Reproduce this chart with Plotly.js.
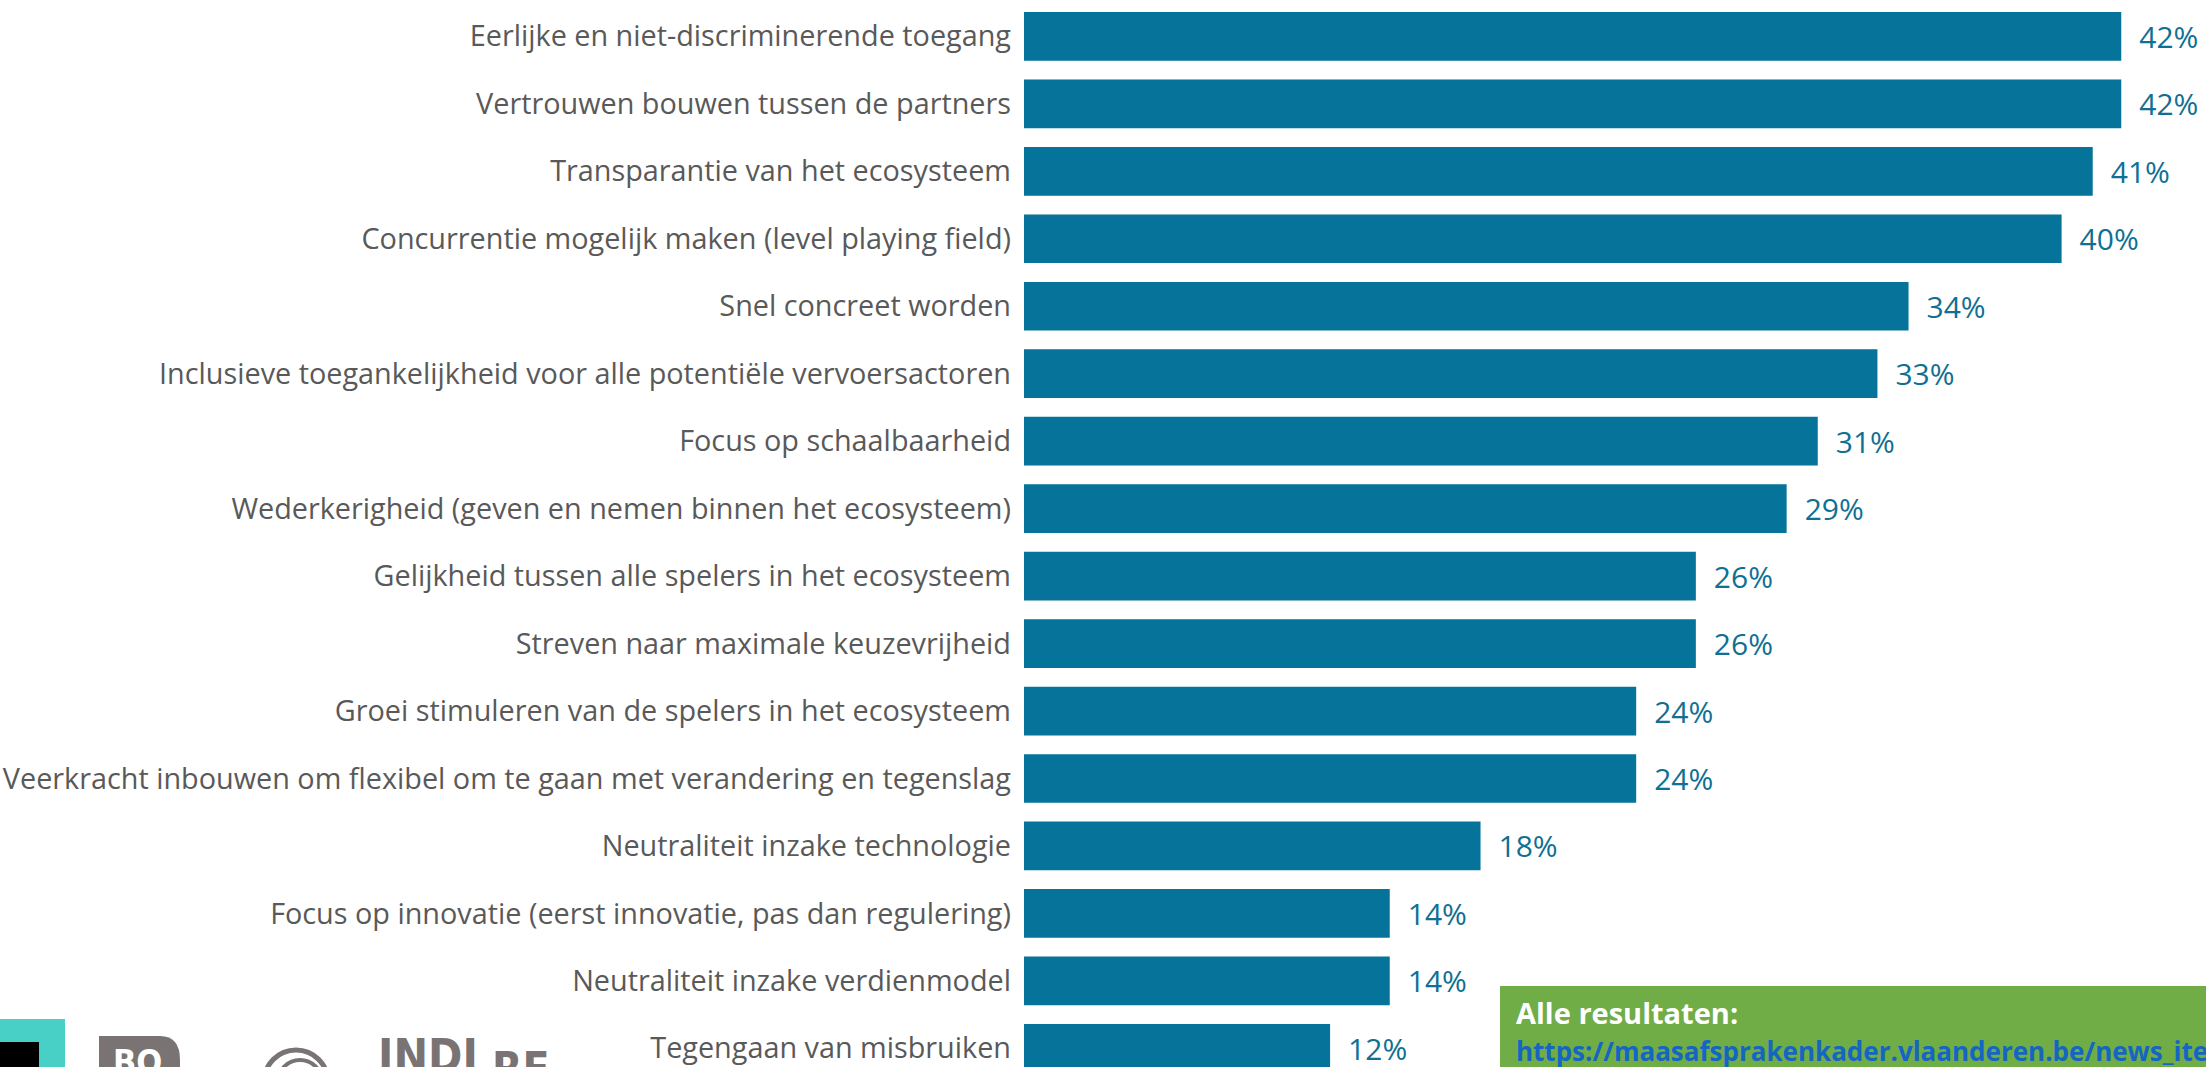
<!DOCTYPE html>
<html>
<head>
<meta charset="utf-8">
<script src="https://cdn.plot.ly/plotly-3.0.1.min.js"></script>
<style>
html,body{margin:0;padding:0;background:#fff;}
#chart{width:2206px;height:1067px;}
</style>
</head>
<body>
<div id="chart"></div>
<script>
const categories = [
  "Eerlijke en niet-discriminerende toegang",
  "Vertrouwen bouwen tussen de partners",
  "Transparantie van het ecosysteem",
  "Concurrentie mogelijk maken (level playing field)",
  "Snel concreet worden",
  "Inclusieve toegankelijkheid voor alle potentiële vervoersactoren",
  "Focus op schaalbaarheid",
  "Wederkerigheid (geven en nemen binnen het ecosysteem)",
  "Gelijkheid tussen alle spelers in het ecosysteem",
  "Streven naar maximale keuzevrijheid",
  "Groei stimuleren van de spelers in het ecosysteem",
  "Veerkracht inbouwen om flexibel om te gaan met verandering en tegenslag",
  "Neutraliteit inzake technologie",
  "Focus op innovatie (eerst innovatie, pas dan regulering)",
  "Neutraliteit inzake verdienmodel",
  "Tegengaan van misbruiken"
];
const values = [42.3, 42.3, 41.2, 40.0, 34.1, 32.9, 30.6, 29.4, 25.9, 25.9, 23.6, 23.6, 17.6, 14.1, 14.1, 11.8];
const boxTitle = "Alle resultaten:";
const boxLink = "https://maasafsprakenkader.vlaanderen.be/news_item";

const W = 2206, H = 1067, L = 1024;
const px = x => (x - L) / (W - L);
const py = y => 1 - y / H;

const trace = {
  type: 'bar',
  orientation: 'h',
  x: values,
  y: categories,
  width: 0.722,
  marker: {color: '#05739A'},
  texttemplate: '\u2002%{x:.0f}%',
  textposition: 'outside',
  textfont: {family: 'Open Sans', size: 30, color: '#0F7093'},
  constraintext: 'none',
  cliponaxis: false,
  hoverinfo: 'skip'
};

const shapes = [
  // green box
  {type:'rect', xref:'paper', yref:'paper', x0:px(1500), x1:px(2220), y0:py(986), y1:py(1080), fillcolor:'#70AD47', line:{width:0}, layer:'above'},
  // turquoise logo
  {type:'rect', xref:'paper', yref:'paper', x0:px(0), x1:px(65), y0:py(1019), y1:py(1080), fillcolor:'#48CFC6', line:{width:0}},
  {type:'rect', xref:'paper', yref:'paper', x0:px(0), x1:px(39), y0:py(1042), y1:py(1080), fillcolor:'#000000', line:{width:0}},
  // BO logo block
  {type:'path', xref:'paper', yref:'paper', fillcolor:'#797473', line:{width:0},
   path: 'M ' + px(99) + ',' + py(1070) + ' L ' + px(99) + ',' + py(1036) + ' L ' + px(160) + ',' + py(1036) +
         ' Q ' + px(180) + ',' + py(1036) + ' ' + px(180) + ',' + py(1060) + ' L ' + px(180) + ',' + py(1070) + ' Z'},
  // circle logo
  {type:'circle', xref:'paper', yref:'paper', x0:px(264), x1:px(328), y0:py(1050), y1:py(1114), fillcolor:'rgba(0,0,0,0)', line:{color:'#797473', width:5}},
  {type:'circle', xref:'paper', yref:'paper', x0:px(278), x1:px(322), y0:py(1060), y1:py(1104), fillcolor:'rgba(0,0,0,0)', line:{color:'#797473', width:4}}
];

const annotations = [
  {xref:'paper', yref:'paper', x:px(1514), y:py(1012), xanchor:'left', yanchor:'middle', showarrow:false,
   text:'<b>' + boxTitle + '</b>', font:{family:'Open Sans', size:29, color:'#ffffff'}},
  {xref:'paper', yref:'paper', x:px(1514), y:py(1051), xanchor:'left', yanchor:'middle', showarrow:false,
   text:'<b>' + boxLink + '</b>', font:{family:'Open Sans', size:26, color:'#1466C2'}},
  {xref:'paper', yref:'paper', x:px(137), y:py(1062), xanchor:'center', yanchor:'middle', showarrow:false,
   text:'<b>BO</b>', font:{family:'DejaVu Sans Condensed', size:34, color:'#ffffff'}},
  {xref:'paper', yref:'paper', x:px(376), y:py(1056), xanchor:'left', yanchor:'middle', showarrow:false,
   text:'<b>INDI</b>', font:{family:'DejaVu Sans Condensed', size:46, color:'#797473'}},
  {xref:'paper', yref:'paper', x:px(490), y:py(1068), xanchor:'left', yanchor:'middle', showarrow:false,
   text:'<b>RE</b>', font:{family:'DejaVu Sans Condensed', size:44, color:'#797473'}}
];

const layout = {
  width: W, height: H,
  margin: {l: L, r: 0, t: 0, b: 0, pad: 0},
  paper_bgcolor: '#ffffff', plot_bgcolor: '#ffffff',
  showlegend: false,
  xaxis: {range: [0, (W - L) / 25.94], visible: false, fixedrange: true},
  yaxis: {
    type: 'category',
    range: [15.276, -0.539],
    autorange: false,
    showgrid: false, zeroline: false, showline: false,
    ticks: '', ticklabelstandoff: 12,
    tickfont: {family: 'Open Sans', size: 28.8, color: '#595959'},
    automargin: false, fixedrange: true
  },
  shapes: shapes,
  annotations: annotations
};

Plotly.newPlot('chart', [trace], layout, {staticPlot: true, displayModeBar: false});
</script>
</body>
</html>
